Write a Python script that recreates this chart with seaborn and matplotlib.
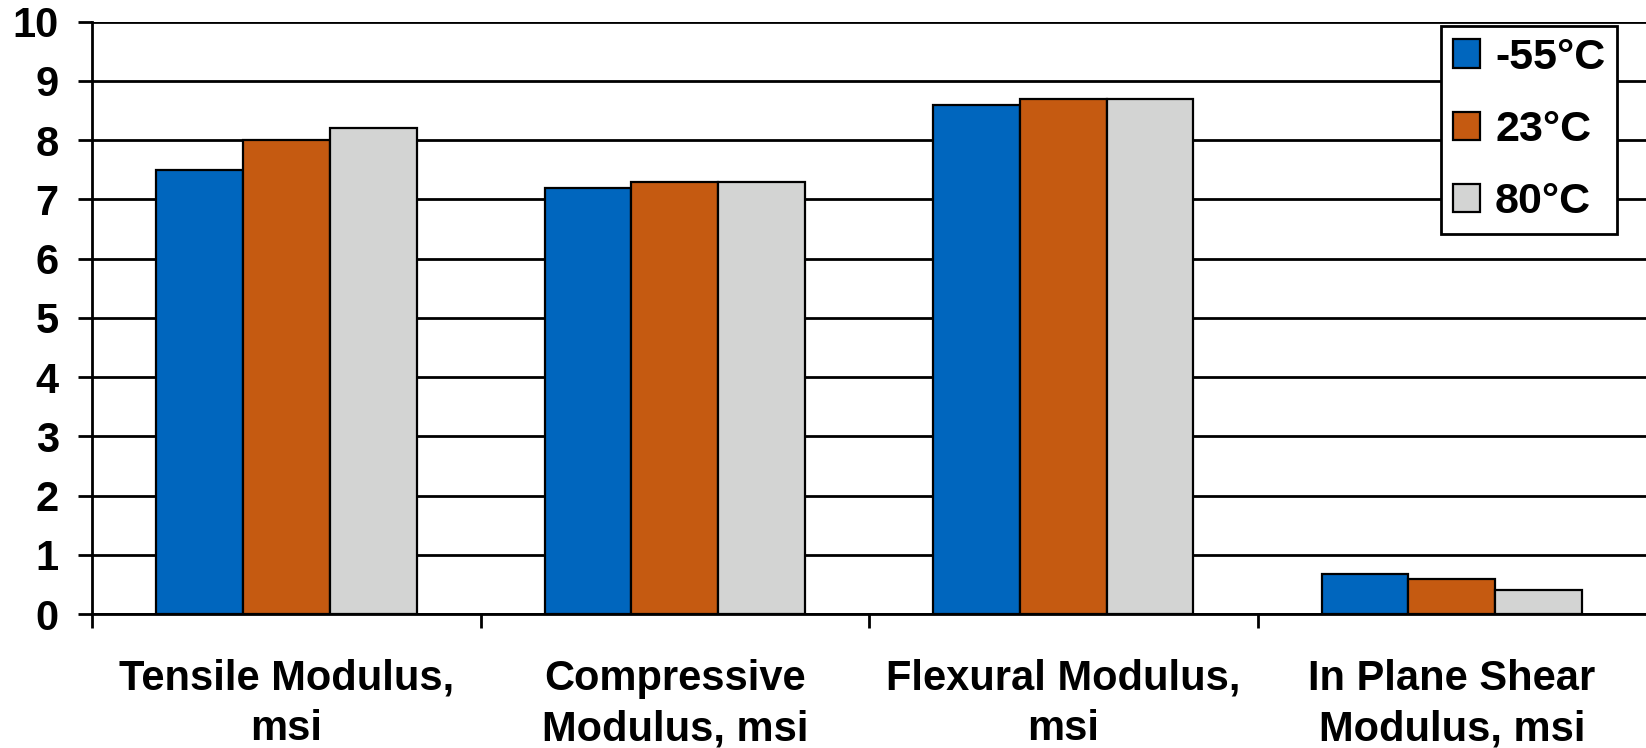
import matplotlib
matplotlib.use("Agg")
import matplotlib.pyplot as plt
import matplotlib.patches as mpatches
import seaborn as sns
import pandas as pd

categories = ["Tensile Modulus,\nmsi", "Compressive\nModulus, msi",
              "Flexural Modulus,\nmsi", "In Plane Shear\nModulus, msi"]
temps = ["-55°C", "23°C", "80°C"]
vals_m55 = [7.5, 7.2, 8.6, 0.68]
vals_23 = [8.0, 7.3, 8.7, 0.6]
vals_80 = [8.2, 7.3, 8.7, 0.41]
colors = ["#0066BE", "#C55A11", "#D3D4D3"]
yticks = list(range(0, 11))

sns.set_theme(style="white")
plt.rcParams["font.family"] = ["Liberation Sans", "DejaVu Sans"]
plt.rcParams["font.weight"] = "bold"
plt.rcParams["text.color"] = "black"
plt.rcParams["xtick.color"] = "black"
plt.rcParams["ytick.color"] = "black"

df = pd.DataFrame({
    "category": categories * 3,
    "temp": [temps[0]] * 4 + [temps[1]] * 4 + [temps[2]] * 4,
    "value": vals_m55 + vals_23 + vals_80,
})

fig = plt.figure(figsize=(16.46, 7.48), dpi=100)
ax = fig.add_axes([0.056, 0.179, 0.944, 0.792])

sns.barplot(data=df, x="category", y="value", hue="temp", order=categories,
            hue_order=temps, palette=colors, width=0.67, saturation=1,
            edgecolor="black", linewidth=1.6, ax=ax, legend=False, zorder=3)

ax.set_xlim(-0.5, 3.5)
ax.set_ylim(0, 10)
ax.set_yticks(yticks)
ax.set_yticklabels([str(t) for t in yticks], fontsize=30, fontweight="bold",
                   color="black")
ax.yaxis.grid(True, color="black", linewidth=2)
ax.set_axisbelow(True)

# category labels centred, boundary tick marks between groups
ax.set_xticks(range(len(categories)))
ax.set_xticklabels(categories, fontsize=30, fontweight="bold", linespacing=1.34,
                   color="black")
ax.set_xticks([-0.5, 0.5, 1.5, 2.5], minor=True)
ax.tick_params(axis="x", which="major", length=0, pad=32)
ax.tick_params(axis="x", which="minor", length=10, width=2, color="black",
               direction="out", bottom=True)
ax.tick_params(axis="y", length=10, width=2, color="black", direction="out",
               left=True, pad=14)

ax.set_xlabel("")
ax.set_ylabel("")
for side in ["top", "right"]:
    ax.spines[side].set_visible(False)
for side in ["left", "bottom"]:
    ax.spines[side].set_color("black")
    ax.spines[side].set_linewidth(2)

handles = [mpatches.Patch(facecolor=c, edgecolor="black", linewidth=1.6, label=t)
           for c, t in zip(colors, temps)]
leg = fig.legend(handles=handles, loc="upper right",
                 bbox_to_anchor=(1617 / 1646, 1 - 26 / 748),
                 prop={"size": 31, "weight": "bold"}, frameon=True,
                 fancybox=False, framealpha=1, edgecolor="black",
                 handlelength=0.64, handleheight=0.64, handletextpad=0.35,
                 labelspacing=0.75, borderpad=0.27, borderaxespad=0)
leg.get_frame().set_linewidth(2)
for t in leg.get_texts():
    t.set_color("black")

fig.savefig("out.png", dpi=100, facecolor="white")
